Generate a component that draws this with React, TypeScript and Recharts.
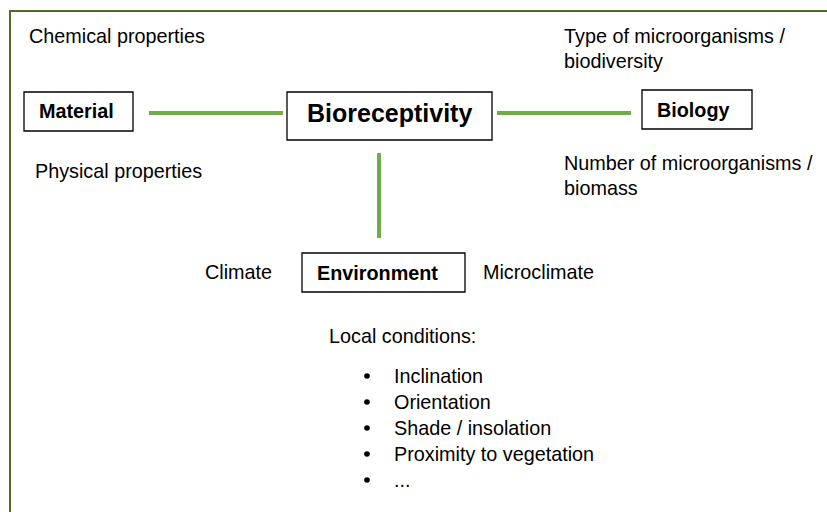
import { ComposedChart, Scatter, XAxis, YAxis, ReferenceLine, ReferenceArea } from 'recharts';

// diagram coordinates (0..827 across, 0..512 down)
const boxNames = ['Material', 'Bioreceptivity', 'Biology', 'Environment'];
const boxX1 = [24, 287, 642, 302];
const boxX2 = [133, 492, 752, 465];
const boxY1 = [92, 92, 90, 253];
const boxY2 = [131, 140, 129, 292];
const boxTextX = [39, 307, 657, 317];
const boxTextY = [111, 113, 110, 272.5];

const links = [
  { from: { x: 149, y: 113 }, to: { x: 283, y: 113 } },
  { from: { x: 497, y: 113 }, to: { x: 631, y: 113 } },
  { from: { x: 379, y: 153 }, to: { x: 379, y: 238 } },
];

const notes = [
  { text: 'Chemical properties', x: 29, y: 36 },
  { text: 'Physical properties', x: 35, y: 171 },
  { text: 'Type of microorganisms /', x: 564, y: 36 },
  { text: 'biodiversity', x: 564, y: 61 },
  { text: 'Number of microorganisms /', x: 564, y: 163 },
  { text: 'biomass', x: 564, y: 188 },
  { text: 'Climate', x: 205, y: 272 },
  { text: 'Microclimate', x: 483, y: 272 },
  { text: 'Local conditions:', x: 329, y: 336 },
];

const bulletItems = ['Inclination', 'Orientation', 'Shade / insolation', 'Proximity to vegetation', '...'];
const bulletY = [376, 402, 428, 454, 480];
const bulletX = 367;
const bulletTextX = 394;

const FONT = '"Liberation Sans", Arial, sans-serif';

const boxLabels = boxNames.map((n, i) => ({ text: n, x: boxTextX[i], y: boxTextY[i] }));
const bullets = bulletY.map((y) => ({ x: bulletX, y }));
const bulletTexts = bulletItems.map((t, i) => ({ text: t, x: bulletTextX, y: bulletY[i] }));

const textShape = (size: number, weight: string) => (p: any) => (
  <text x={p.cx} y={p.cy} fontFamily={FONT} fontSize={size} fontWeight={weight} fill="#000" dominantBaseline="central" textAnchor="start">
    {p.payload.text}
  </text>
);

export default function App() {
  return (
    <div style={{ position: 'absolute', left: 0, top: 0, width: 827, height: 512, background: '#fff' }}>
      <ComposedChart width={827} height={512} margin={{ top: 0, right: 0, bottom: 0, left: 0 }}>
        <XAxis type="number" dataKey="x" domain={[0, 827]} hide />
        <YAxis type="number" dataKey="y" domain={[0, 512]} reversed hide />
        <ReferenceLine segment={[{ x: 10, y: 11 }, { x: 827, y: 11 }]} stroke="#4e6b2d" strokeWidth={2} />
        <ReferenceLine segment={[{ x: 10, y: 10 }, { x: 10, y: 512 }]} stroke="#4e6b2d" strokeWidth={2} />
        {links.map((l, i) => (
          <ReferenceLine key={i} segment={[l.from, l.to]} stroke="#70ad47" strokeWidth={4} />
        ))}
        {boxNames.map((n, i) => (
          <ReferenceArea key={n} x1={boxX1[i]} x2={boxX2[i]} y1={boxY1[i]} y2={boxY2[i]} fill="#fff" fillOpacity={1} stroke="#000" strokeWidth={1.3} />
        ))}
        <Scatter data={boxLabels.slice(0, 1).concat(boxLabels.slice(2))} shape={textShape(19.8, 'bold')} isAnimationActive={false} />
        <Scatter data={boxLabels.slice(1, 2)} shape={textShape(25, 'bold')} isAnimationActive={false} />
        <Scatter data={notes} shape={textShape(19.8, 'normal')} isAnimationActive={false} />
        <Scatter data={bulletTexts} shape={textShape(19.8, 'normal')} isAnimationActive={false} />
        <Scatter data={bullets} shape={(p: any) => <circle cx={p.cx} cy={p.cy} r={2.8} fill="#000" />} isAnimationActive={false} />
      </ComposedChart>
    </div>
  );
}
